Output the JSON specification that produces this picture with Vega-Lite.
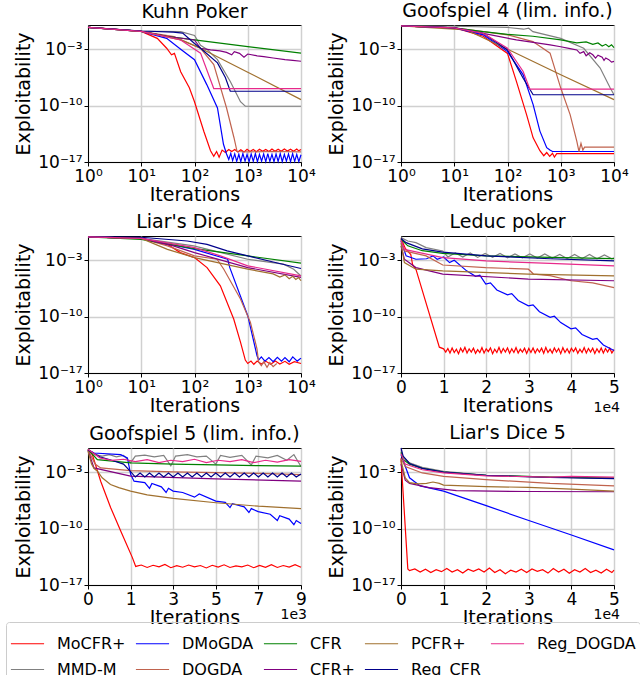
{
"$schema": "https://vega.github.io/schema/vega-lite/v6.json",
"padding": {"left": 5, "top": 1, "right": 5, "bottom": 0},
"config": {
 "font": "DejaVu Sans",
 "view": {"stroke": "black", "strokeWidth": 1},
 "axis": {"labelFontSize": 17, "titleFontSize": 19, "titleFontWeight": "normal", "labelColor": "black", "titleColor": "black", "domainColor": "black", "tickColor": "black", "gridColor": "#d0d0d0", "gridWidth": 1.5, "tickSize": 4, "labelFlush": false, "labelOverlap": false, "labelPadding": 2},
 "axisY": {"titlePadding": 4},
 "axisX": {"titlePadding": 1},
 "title": {"fontSize": 19, "fontWeight": "normal", "offset": 3, "color": "black"},
 "legend": {"direction": "horizontal", "columns": 5, "gridAlign": "each", "symbolType": "stroke", "symbolSize": 1100, "symbolStrokeWidth": 2, "labelFontSize": 16, "labelOffset": 12, "columnPadding": 7, "rowPadding": 0, "strokeColor": "#cccccc", "padding": 4, "cornerRadius": 3, "labelLimit": 300},
 "line": {"strokeWidth": 1.2, "clip": true}
},
"datasets": {
"kuhn": [
{"s":"MoCFR+","x":1,"y":0.5},{"s":"MoCFR+","x":3,"y":0.3},{"s":"MoCFR+","x":10,"y":0.16},{"s":"MoCFR+","x":20,"y":0.022},{"s":"MoCFR+","x":30,"y":0.0013},{"s":"MoCFR+","x":37,"y":2e-4},{"s":"MoCFR+","x":42,"y":3e-4},{"s":"MoCFR+","x":55,"y":1.6e-6},{"s":"MoCFR+","x":80,"y":1.6e-8},{"s":"MoCFR+","x":100,"y":3e-10},{"s":"MoCFR+","x":150,"y":6e-14},{"s":"MoCFR+","x":200,"y":2.5e-16},{"s":"MoCFR+","x":230,"y":5e-17},{"s":"MoCFR+","x":260,"y":2e-16},{"s":"MoCFR+","x":290,"y":4e-17},{"s":"MoCFR+","x":330,"y":3e-16},{"s":"MoCFR+","x":380,"y":1.5e-16},{"s":"MoCFR+","x":440,"y":3.5e-16},{"s":"MoCFR+","x":500,"y":2e-16},{"s":"MoCFR+","x":570,"y":3.6e-16},{"s":"MoCFR+","x":650,"y":1.8e-16},{"s":"MoCFR+","x":740,"y":3.4e-16},{"s":"MoCFR+","x":850,"y":1.7e-16},{"s":"MoCFR+","x":970,"y":3.8e-16},{"s":"MoCFR+","x":1100,"y":2e-16},{"s":"MoCFR+","x":1270,"y":3.5e-16},{"s":"MoCFR+","x":1450,"y":1.9e-16},{"s":"MoCFR+","x":1660,"y":3.9e-16},{"s":"MoCFR+","x":1900,"y":2.1e-16},{"s":"MoCFR+","x":2180,"y":3.6e-16},{"s":"MoCFR+","x":2500,"y":2e-16},{"s":"MoCFR+","x":2850,"y":4e-16},{"s":"MoCFR+","x":3250,"y":2.2e-16},{"s":"MoCFR+","x":3720,"y":3.8e-16},{"s":"MoCFR+","x":4250,"y":2.1e-16},{"s":"MoCFR+","x":4870,"y":4e-16},{"s":"MoCFR+","x":5550,"y":2.3e-16},{"s":"MoCFR+","x":6360,"y":3.9e-16},{"s":"MoCFR+","x":7250,"y":2.2e-16},{"s":"MoCFR+","x":8320,"y":4e-16},{"s":"MoCFR+","x":9100,"y":2.4e-16},{"s":"MoCFR+","x":10000,"y":3.5e-16},
{"s":"MMD-M","x":1,"y":0.5},{"s":"MMD-M","x":10,"y":0.18},{"s":"MMD-M","x":55,"y":0.15},{"s":"MMD-M","x":100,"y":0.05},{"s":"MMD-M","x":130,"y":0.003},{"s":"MMD-M","x":170,"y":0.001},{"s":"MMD-M","x":270,"y":5e-5},{"s":"MMD-M","x":470,"y":1e-7},{"s":"MMD-M","x":730,"y":3e-10},{"s":"MMD-M","x":900,"y":8.3e-11},{"s":"MMD-M","x":10000,"y":8.3e-11},
{"s":"DMoGDA","x":1,"y":0.5},{"s":"DMoGDA","x":10,"y":0.16},{"s":"DMoGDA","x":30,"y":0.022},{"s":"DMoGDA","x":55,"y":0.001},{"s":"DMoGDA","x":100,"y":5e-5},{"s":"DMoGDA","x":170,"y":4e-8},{"s":"DMoGDA","x":270,"y":5e-11},{"s":"DMoGDA","x":350,"y":1.6e-15},{"s":"DMoGDA","x":400,"y":1e-16},{"s":"DMoGDA","x":440,"y":2e-17},{"s":"DMoGDA","x":480,"y":1.2e-16},{"s":"DMoGDA","x":520,"y":1.5e-17},{"s":"DMoGDA","x":570,"y":1e-16},{"s":"DMoGDA","x":620,"y":1.2e-17},{"s":"DMoGDA","x":680,"y":9e-17},{"s":"DMoGDA","x":740,"y":1.1e-17},{"s":"DMoGDA","x":810,"y":1.1e-16},{"s":"DMoGDA","x":890,"y":1.3e-17},{"s":"DMoGDA","x":970,"y":9e-17},{"s":"DMoGDA","x":1060,"y":1.1e-17},{"s":"DMoGDA","x":1160,"y":1e-16},{"s":"DMoGDA","x":1270,"y":1.2e-17},{"s":"DMoGDA","x":1390,"y":1.1e-16},{"s":"DMoGDA","x":1520,"y":1.1e-17},{"s":"DMoGDA","x":1660,"y":9e-17},{"s":"DMoGDA","x":1820,"y":1.3e-17},{"s":"DMoGDA","x":1990,"y":1e-16},{"s":"DMoGDA","x":2180,"y":1.1e-17},{"s":"DMoGDA","x":2380,"y":1.1e-16},{"s":"DMoGDA","x":2600,"y":1.2e-17},{"s":"DMoGDA","x":2850,"y":9e-17},{"s":"DMoGDA","x":3110,"y":1.1e-17},{"s":"DMoGDA","x":3400,"y":1e-16},{"s":"DMoGDA","x":3720,"y":1.2e-17},{"s":"DMoGDA","x":4070,"y":1.1e-16},{"s":"DMoGDA","x":4450,"y":1.1e-17},{"s":"DMoGDA","x":4870,"y":9e-17},{"s":"DMoGDA","x":5320,"y":1.3e-17},{"s":"DMoGDA","x":5820,"y":1e-16},{"s":"DMoGDA","x":6360,"y":1.1e-17},{"s":"DMoGDA","x":6960,"y":1.1e-16},{"s":"DMoGDA","x":7610,"y":1.2e-17},{"s":"DMoGDA","x":8320,"y":9e-17},{"s":"DMoGDA","x":9100,"y":1.1e-17},{"s":"DMoGDA","x":10000,"y":8e-17},
{"s":"DOGDA","x":1,"y":0.5},{"s":"DOGDA","x":10,"y":0.16},{"s":"DOGDA","x":41,"y":0.036},{"s":"DOGDA","x":130,"y":0.0013},{"s":"DOGDA","x":230,"y":1.2e-5},{"s":"DOGDA","x":400,"y":5e-11},{"s":"DOGDA","x":550,"y":1.1e-14},{"s":"DOGDA","x":630,"y":2e-16},{"s":"DOGDA","x":1000,"y":1.8e-16},{"s":"DOGDA","x":3000,"y":2e-16},{"s":"DOGDA","x":10000,"y":1.8e-16},
{"s":"CFR","x":1,"y":0.5},{"s":"CFR","x":10,"y":0.16},{"s":"CFR","x":30,"y":0.04},{"s":"CFR","x":100,"y":0.014},{"s":"CFR","x":1000,"y":0.0021},{"s":"CFR","x":10000,"y":3.2e-4},
{"s":"CFR+","x":1,"y":0.5},{"s":"CFR+","x":10,"y":0.16},{"s":"CFR+","x":30,"y":0.04},{"s":"CFR+","x":100,"y":0.014},{"s":"CFR+","x":130,"y":0.0013},{"s":"CFR+","x":200,"y":8e-4},{"s":"CFR+","x":300,"y":6.3e-4},{"s":"CFR+","x":400,"y":4e-4},{"s":"CFR+","x":500,"y":2e-4},{"s":"CFR+","x":560,"y":5e-4},{"s":"CFR+","x":700,"y":3e-4},{"s":"CFR+","x":850,"y":1e-4},{"s":"CFR+","x":1000,"y":2.5e-4},{"s":"CFR+","x":1500,"y":1.5e-4},{"s":"CFR+","x":2000,"y":1.2e-4},{"s":"CFR+","x":3000,"y":8e-5},{"s":"CFR+","x":5000,"y":5e-5},{"s":"CFR+","x":7000,"y":4e-5},{"s":"CFR+","x":10000,"y":3.2e-5},
{"s":"PCFR+","x":1,"y":0.5},{"s":"PCFR+","x":10,"y":0.16},{"s":"PCFR+","x":55,"y":0.014},{"s":"PCFR+","x":130,"y":0.0013},{"s":"PCFR+","x":1000,"y":1.4e-6},{"s":"PCFR+","x":10000,"y":5.5e-10},
{"s":"Reg_CFR","x":1,"y":0.5},{"s":"Reg_CFR","x":10,"y":0.18},{"s":"Reg_CFR","x":40,"y":0.13},{"s":"Reg_CFR","x":60,"y":0.1},{"s":"Reg_CFR","x":100,"y":0.005},{"s":"Reg_CFR","x":130,"y":0.0013},{"s":"Reg_CFR","x":270,"y":2e-5},{"s":"Reg_CFR","x":380,"y":3e-7},{"s":"Reg_CFR","x":470,"y":6e-9},{"s":"Reg_CFR","x":10000,"y":6e-9},
{"s":"Reg_DOGDA","x":1,"y":0.5},{"s":"Reg_DOGDA","x":10,"y":0.16},{"s":"Reg_DOGDA","x":55,"y":0.014},{"s":"Reg_DOGDA","x":130,"y":3.2e-4},{"s":"Reg_DOGDA","x":230,"y":1.3e-8},{"s":"Reg_DOGDA","x":10000,"y":1.3e-8}
],
"goof4": [
{"s":"MoCFR+","x":1,"y":0.76},{"s":"MoCFR+","x":10,"y":0.45},{"s":"MoCFR+","x":35,"y":0.04},{"s":"MoCFR+","x":100,"y":3e-4},{"s":"MoCFR+","x":147,"y":1e-7},{"s":"MoCFR+","x":228,"y":7.6e-12},{"s":"MoCFR+","x":303,"y":1e-14},{"s":"MoCFR+","x":406,"y":2.5e-16},{"s":"MoCFR+","x":480,"y":6e-17},{"s":"MoCFR+","x":545,"y":1.5e-16},{"s":"MoCFR+","x":620,"y":5e-17},{"s":"MoCFR+","x":700,"y":1.2e-16},{"s":"MoCFR+","x":760,"y":4e-17},{"s":"MoCFR+","x":840,"y":1.07e-16},{"s":"MoCFR+","x":10000,"y":1.07e-16},
{"s":"MMD-M","x":1,"y":0.76},{"s":"MMD-M","x":10,"y":0.7},{"s":"MMD-M","x":100,"y":0.5},{"s":"MMD-M","x":200,"y":0.3},{"s":"MMD-M","x":250,"y":0.4},{"s":"MMD-M","x":300,"y":0.15},{"s":"MMD-M","x":1000,"y":0.022},{"s":"MMD-M","x":2700,"y":0.0013},{"s":"MMD-M","x":5500,"y":4.5e-6},{"s":"MMD-M","x":8500,"y":1.5e-8},{"s":"MMD-M","x":10000,"y":2.2e-9},
{"s":"DMoGDA","x":1,"y":0.76},{"s":"DMoGDA","x":10,"y":0.45},{"s":"DMoGDA","x":35,"y":0.06},{"s":"DMoGDA","x":100,"y":5e-4},{"s":"DMoGDA","x":197,"y":6.6e-7},{"s":"DMoGDA","x":303,"y":1.3e-10},{"s":"DMoGDA","x":406,"y":6.8e-14},{"s":"DMoGDA","x":545,"y":6e-16},{"s":"DMoGDA","x":626,"y":3e-16},{"s":"DMoGDA","x":700,"y":2e-16},{"s":"DMoGDA","x":10000,"y":2e-16},
{"s":"DOGDA","x":1,"y":0.76},{"s":"DOGDA","x":10,"y":0.45},{"s":"DOGDA","x":35,"y":0.15},{"s":"DOGDA","x":100,"y":0.06},{"s":"DOGDA","x":300,"y":0.0087},{"s":"DOGDA","x":630,"y":3.2e-4},{"s":"DOGDA","x":1000,"y":1.5e-8},{"s":"DOGDA","x":1500,"y":7.6e-12},{"s":"DOGDA","x":2000,"y":4e-15},{"s":"DOGDA","x":2200,"y":2e-16},{"s":"DOGDA","x":2400,"y":2e-15},{"s":"DOGDA","x":2600,"y":3e-16},{"s":"DOGDA","x":2800,"y":7e-16},{"s":"DOGDA","x":10000,"y":7e-16},
{"s":"CFR","x":1,"y":0.76},{"s":"CFR","x":10,"y":0.45},{"s":"CFR","x":35,"y":0.15},{"s":"CFR","x":100,"y":0.07},{"s":"CFR","x":300,"y":0.04},{"s":"CFR","x":1000,"y":0.014},{"s":"CFR","x":2000,"y":0.006},{"s":"CFR","x":3000,"y":0.008},{"s":"CFR","x":4000,"y":0.004},{"s":"CFR","x":5000,"y":0.006},{"s":"CFR","x":6000,"y":0.0025},{"s":"CFR","x":7000,"y":0.004},{"s":"CFR","x":8000,"y":0.002},{"s":"CFR","x":9000,"y":0.0035},{"s":"CFR","x":10000,"y":0.0016},
{"s":"CFR+","x":1,"y":0.76},{"s":"CFR+","x":10,"y":0.45},{"s":"CFR+","x":35,"y":0.09},{"s":"CFR+","x":147,"y":0.014},{"s":"CFR+","x":630,"y":0.0034},{"s":"CFR+","x":1000,"y":0.002},{"s":"CFR+","x":1500,"y":0.0012},{"s":"CFR+","x":2000,"y":8e-4},{"s":"CFR+","x":2300,"y":3e-4},{"s":"CFR+","x":2700,"y":5e-4},{"s":"CFR+","x":3000,"y":1.5e-4},{"s":"CFR+","x":3500,"y":3.5e-4},{"s":"CFR+","x":4000,"y":2e-4},{"s":"CFR+","x":4500,"y":8e-5},{"s":"CFR+","x":5000,"y":1.8e-4},{"s":"CFR+","x":6000,"y":1e-4},{"s":"CFR+","x":6500,"y":4e-5},{"s":"CFR+","x":7000,"y":8e-5},{"s":"CFR+","x":8000,"y":5e-5},{"s":"CFR+","x":9000,"y":2.5e-5},{"s":"CFR+","x":10000,"y":3e-5},
{"s":"PCFR+","x":1,"y":0.76},{"s":"PCFR+","x":17,"y":0.24},{"s":"PCFR+","x":100,"y":0.001},{"s":"PCFR+","x":1000,"y":6.6e-7},{"s":"PCFR+","x":10000,"y":5.5e-10},
{"s":"Reg_CFR","x":1,"y":0.76},{"s":"Reg_CFR","x":10,"y":0.45},{"s":"Reg_CFR","x":35,"y":0.09},{"s":"Reg_CFR","x":100,"y":8e-4},{"s":"Reg_CFR","x":197,"y":2.5e-7},{"s":"Reg_CFR","x":303,"y":2.2e-9},{"s":"Reg_CFR","x":10000,"y":2.2e-9},
{"s":"Reg_DOGDA","x":1,"y":0.76},{"s":"Reg_DOGDA","x":10,"y":0.45},{"s":"Reg_DOGDA","x":35,"y":0.09},{"s":"Reg_DOGDA","x":100,"y":0.0013},{"s":"Reg_DOGDA","x":197,"y":1.7e-6},{"s":"Reg_DOGDA","x":263,"y":1.1e-8},{"s":"Reg_DOGDA","x":10000,"y":1.1e-8}
],
"liars4": [
{"s":"MoCFR+","x":1,"y":0.76},{"s":"MoCFR+","x":10,"y":0.5},{"s":"MoCFR+","x":31,"y":0.093},{"s":"MoCFR+","x":54,"y":0.0087},{"s":"MoCFR+","x":100,"y":0.0021},{"s":"MoCFR+","x":172,"y":1.2e-4},{"s":"MoCFR+","x":306,"y":6.6e-7},{"s":"MoCFR+","x":545,"y":5e-11},{"s":"MoCFR+","x":730,"y":6.8e-14},{"s":"MoCFR+","x":900,"y":4e-16},{"s":"MoCFR+","x":1000,"y":1.5e-16},{"s":"MoCFR+","x":1150,"y":3e-16},{"s":"MoCFR+","x":1300,"y":1.2e-16},{"s":"MoCFR+","x":1500,"y":3e-16},{"s":"MoCFR+","x":1800,"y":1.3e-16},{"s":"MoCFR+","x":2200,"y":2.8e-16},{"s":"MoCFR+","x":2700,"y":1.2e-16},{"s":"MoCFR+","x":3300,"y":3e-16},{"s":"MoCFR+","x":4000,"y":1.3e-16},{"s":"MoCFR+","x":5000,"y":2.8e-16},{"s":"MoCFR+","x":6000,"y":1.2e-16},{"s":"MoCFR+","x":7500,"y":2.5e-16},{"s":"MoCFR+","x":10000,"y":1.5e-16},
{"s":"MMD-M","x":1,"y":0.76},{"s":"MMD-M","x":10,"y":0.5},{"s":"MMD-M","x":97,"y":0.06},{"s":"MMD-M","x":1000,"y":0.0013},{"s":"MMD-M","x":4700,"y":3.2e-4},{"s":"MMD-M","x":7300,"y":7.6e-5},{"s":"MMD-M","x":10000,"y":1.1e-5},
{"s":"DMoGDA","x":1,"y":0.76},{"s":"DMoGDA","x":10,"y":0.5},{"s":"DMoGDA","x":100,"y":0.022},{"s":"DMoGDA","x":420,"y":0.0013},{"s":"DMoGDA","x":460,"y":1.2e-4},{"s":"DMoGDA","x":1000,"y":1.3e-10},{"s":"DMoGDA","x":1490,"y":1.5e-15},{"s":"DMoGDA","x":1600,"y":4e-16},{"s":"DMoGDA","x":1800,"y":1e-15},{"s":"DMoGDA","x":2100,"y":3e-16},{"s":"DMoGDA","x":2500,"y":8e-16},{"s":"DMoGDA","x":3000,"y":2.5e-16},{"s":"DMoGDA","x":3600,"y":9e-16},{"s":"DMoGDA","x":4300,"y":3e-16},{"s":"DMoGDA","x":5000,"y":8e-16},{"s":"DMoGDA","x":6000,"y":2.5e-16},{"s":"DMoGDA","x":7000,"y":1e-15},{"s":"DMoGDA","x":8500,"y":3e-16},{"s":"DMoGDA","x":10000,"y":7e-16},
{"s":"DOGDA","x":1,"y":0.76},{"s":"DOGDA","x":10,"y":0.5},{"s":"DOGDA","x":31,"y":0.06},{"s":"DOGDA","x":100,"y":0.0034},{"s":"DOGDA","x":265,"y":0.0013},{"s":"DOGDA","x":355,"y":7.6e-5},{"s":"DOGDA","x":730,"y":1.5e-8},{"s":"DOGDA","x":1120,"y":2e-11},{"s":"DOGDA","x":1490,"y":1e-14},{"s":"DOGDA","x":1600,"y":2.3e-16},{"s":"DOGDA","x":1800,"y":8e-17},{"s":"DOGDA","x":2000,"y":2.5e-16},{"s":"DOGDA","x":2300,"y":5e-17},{"s":"DOGDA","x":2600,"y":2e-16},{"s":"DOGDA","x":3000,"y":6e-17},{"s":"DOGDA","x":3500,"y":1.5e-16},
{"s":"CFR","x":1,"y":0.76},{"s":"CFR","x":10,"y":0.39},{"s":"CFR","x":100,"y":0.027},{"s":"CFR","x":1000,"y":0.0034},{"s":"CFR","x":10000,"y":4.2e-4},
{"s":"CFR+","x":1,"y":0.76},{"s":"CFR+","x":10,"y":0.5},{"s":"CFR+","x":40,"y":0.06},{"s":"CFR+","x":100,"y":0.0087},{"s":"CFR+","x":1000,"y":1.2e-4},{"s":"CFR+","x":10000,"y":7.2e-6},
{"s":"PCFR+","x":1,"y":0.76},{"s":"PCFR+","x":10,"y":0.5},{"s":"PCFR+","x":31,"y":0.022},{"s":"PCFR+","x":100,"y":0.0021},{"s":"PCFR+","x":1000,"y":7.6e-5},{"s":"PCFR+","x":3000,"y":2e-5},{"s":"PCFR+","x":4000,"y":8e-6},{"s":"PCFR+","x":5000,"y":1.5e-5},{"s":"PCFR+","x":6000,"y":5e-6},{"s":"PCFR+","x":7000,"y":1e-5},{"s":"PCFR+","x":8000,"y":4e-6},{"s":"PCFR+","x":9000,"y":7e-6},{"s":"PCFR+","x":10000,"y":2.8e-6},
{"s":"Reg_CFR","x":1,"y":0.76},{"s":"Reg_CFR","x":10,"y":0.7},{"s":"Reg_CFR","x":73,"y":0.24},{"s":"Reg_CFR","x":172,"y":0.093},{"s":"Reg_CFR","x":410,"y":0.014},{"s":"Reg_CFR","x":1000,"y":0.0034},{"s":"Reg_CFR","x":3000,"y":6e-4},{"s":"Reg_CFR","x":10000,"y":9.3e-5},
{"s":"Reg_DOGDA","x":1,"y":0.76},{"s":"Reg_DOGDA","x":10,"y":0.5},{"s":"Reg_DOGDA","x":100,"y":0.036},{"s":"Reg_DOGDA","x":306,"y":0.0034},{"s":"Reg_DOGDA","x":1000,"y":2e-4},{"s":"Reg_DOGDA","x":10000,"y":1.1e-5}
],
"leduc": [
{"s":"MoCFR+","x":0,"y":0.5},{"s":"MoCFR+","x":1000,"y":0.03},{"s":"MoCFR+","x":2300,"y":0.005},{"s":"MoCFR+","x":2500,"y":0.0013},{"s":"MoCFR+","x":2700,"y":3e-4},{"s":"MoCFR+","x":3500,"y":7.6e-5},{"s":"MoCFR+","x":9000,"y":1.6e-14},{"s":"MoCFR+","x":10000,"y":1e-14},{"s":"MoCFR+","x":10500,"y":4e-15},{"s":"MoCFR+","x":11000,"y":1.1e-14},{"s":"MoCFR+","x":11500,"y":3e-15},{"s":"MoCFR+","x":12000,"y":1.3e-14},{"s":"MoCFR+","x":12500,"y":3.5e-15},{"s":"MoCFR+","x":13000,"y":9e-15},{"s":"MoCFR+","x":13500,"y":2.5e-15},{"s":"MoCFR+","x":14000,"y":1.2e-14},{"s":"MoCFR+","x":14500,"y":4e-15},{"s":"MoCFR+","x":15000,"y":1.5e-14},{"s":"MoCFR+","x":15500,"y":3e-15},{"s":"MoCFR+","x":16000,"y":1e-14},{"s":"MoCFR+","x":16500,"y":4e-15},{"s":"MoCFR+","x":17000,"y":1.2e-14},{"s":"MoCFR+","x":17500,"y":2.8e-15},{"s":"MoCFR+","x":18000,"y":8e-15},{"s":"MoCFR+","x":18500,"y":3.5e-15},{"s":"MoCFR+","x":19000,"y":1.4e-14},{"s":"MoCFR+","x":19500,"y":3e-15},{"s":"MoCFR+","x":20000,"y":1e-14},{"s":"MoCFR+","x":20500,"y":4.5e-15},{"s":"MoCFR+","x":21000,"y":1.3e-14},{"s":"MoCFR+","x":21500,"y":2.5e-15},{"s":"MoCFR+","x":22000,"y":9e-15},{"s":"MoCFR+","x":22500,"y":3.5e-15},{"s":"MoCFR+","x":23000,"y":1.5e-14},{"s":"MoCFR+","x":23500,"y":3e-15},{"s":"MoCFR+","x":24000,"y":1.1e-14},{"s":"MoCFR+","x":24500,"y":4e-15},{"s":"MoCFR+","x":25000,"y":1.3e-14},{"s":"MoCFR+","x":25500,"y":2.8e-15},{"s":"MoCFR+","x":26000,"y":1e-14},{"s":"MoCFR+","x":26500,"y":3.5e-15},{"s":"MoCFR+","x":27000,"y":1.4e-14},{"s":"MoCFR+","x":27500,"y":3e-15},{"s":"MoCFR+","x":28000,"y":9e-15},{"s":"MoCFR+","x":28500,"y":4e-15},{"s":"MoCFR+","x":29000,"y":1.2e-14},{"s":"MoCFR+","x":29500,"y":2.6e-15},{"s":"MoCFR+","x":30000,"y":1.1e-14},{"s":"MoCFR+","x":30500,"y":3.5e-15},{"s":"MoCFR+","x":31000,"y":1.3e-14},{"s":"MoCFR+","x":31500,"y":3e-15},{"s":"MoCFR+","x":32000,"y":1e-14},{"s":"MoCFR+","x":32500,"y":4e-15},{"s":"MoCFR+","x":33000,"y":1.2e-14},{"s":"MoCFR+","x":33500,"y":2.8e-15},{"s":"MoCFR+","x":34000,"y":1.5e-14},{"s":"MoCFR+","x":34500,"y":3.5e-15},{"s":"MoCFR+","x":35000,"y":9e-15},{"s":"MoCFR+","x":35500,"y":3e-15},{"s":"MoCFR+","x":36000,"y":1.3e-14},{"s":"MoCFR+","x":36500,"y":4e-15},{"s":"MoCFR+","x":37000,"y":1.1e-14},{"s":"MoCFR+","x":37500,"y":2.5e-15},{"s":"MoCFR+","x":38000,"y":1.4e-14},{"s":"MoCFR+","x":38500,"y":3.5e-15},{"s":"MoCFR+","x":39000,"y":1e-14},{"s":"MoCFR+","x":39500,"y":3e-15},{"s":"MoCFR+","x":40000,"y":1.2e-14},{"s":"MoCFR+","x":40500,"y":4.5e-15},{"s":"MoCFR+","x":41000,"y":1.3e-14},{"s":"MoCFR+","x":41500,"y":2.8e-15},{"s":"MoCFR+","x":42000,"y":9e-15},{"s":"MoCFR+","x":42500,"y":3.5e-15},{"s":"MoCFR+","x":43000,"y":1.4e-14},{"s":"MoCFR+","x":43500,"y":3e-15},{"s":"MoCFR+","x":44000,"y":1.1e-14},{"s":"MoCFR+","x":44500,"y":4e-15},{"s":"MoCFR+","x":45000,"y":1.2e-14},{"s":"MoCFR+","x":45500,"y":2.6e-15},{"s":"MoCFR+","x":46000,"y":1e-14},{"s":"MoCFR+","x":46500,"y":3.5e-15},{"s":"MoCFR+","x":47000,"y":1.3e-14},{"s":"MoCFR+","x":47500,"y":3e-15},{"s":"MoCFR+","x":48000,"y":1.1e-14},{"s":"MoCFR+","x":48500,"y":4e-15},{"s":"MoCFR+","x":49000,"y":1.2e-14},{"s":"MoCFR+","x":49500,"y":3e-15},{"s":"MoCFR+","x":50000,"y":8e-15},
{"s":"MMD-M","x":0,"y":0.63},{"s":"MMD-M","x":1600,"y":0.24},{"s":"MMD-M","x":3500,"y":0.15},{"s":"MMD-M","x":5900,"y":0.036},{"s":"MMD-M","x":9800,"y":0.014},{"s":"MMD-M","x":11000,"y":0.0025},{"s":"MMD-M","x":12750,"y":0.008},{"s":"MMD-M","x":14500,"y":0.0025},{"s":"MMD-M","x":16250,"y":0.008},{"s":"MMD-M","x":18000,"y":0.0022},{"s":"MMD-M","x":19750,"y":0.007},{"s":"MMD-M","x":21500,"y":0.0022},{"s":"MMD-M","x":23250,"y":0.007},{"s":"MMD-M","x":25000,"y":0.002},{"s":"MMD-M","x":26750,"y":0.006},{"s":"MMD-M","x":28500,"y":0.002},{"s":"MMD-M","x":30250,"y":0.006},{"s":"MMD-M","x":32000,"y":0.0018},{"s":"MMD-M","x":33750,"y":0.006},{"s":"MMD-M","x":35500,"y":0.0018},{"s":"MMD-M","x":37250,"y":0.005},{"s":"MMD-M","x":39000,"y":0.0016},{"s":"MMD-M","x":40750,"y":0.005},{"s":"MMD-M","x":42500,"y":0.0016},{"s":"MMD-M","x":44250,"y":0.005},{"s":"MMD-M","x":46000,"y":0.0015},{"s":"MMD-M","x":47750,"y":0.0045},{"s":"MMD-M","x":49500,"y":0.0015},{"s":"MMD-M","x":50000,"y":0.002},
{"s":"DMoGDA","x":0,"y":0.24},{"s":"DMoGDA","x":1200,"y":0.0034},{"s":"DMoGDA","x":3500,"y":0.0013},{"s":"DMoGDA","x":6000,"y":0.0015},{"s":"DMoGDA","x":7500,"y":0.0034},{"s":"DMoGDA","x":8500,"y":0.0013},{"s":"DMoGDA","x":10000,"y":0.0025},{"s":"DMoGDA","x":11400,"y":5e-4},{"s":"DMoGDA","x":12500,"y":0.001},{"s":"DMoGDA","x":15400,"y":4.7e-5},{"s":"DMoGDA","x":17500,"y":1e-5},{"s":"DMoGDA","x":18500,"y":1.4e-5},{"s":"DMoGDA","x":19900,"y":1.1e-6},{"s":"DMoGDA","x":21000,"y":1.5e-6},{"s":"DMoGDA","x":22500,"y":2e-7},{"s":"DMoGDA","x":25000,"y":5e-8},{"s":"DMoGDA","x":26000,"y":7e-8},{"s":"DMoGDA","x":27500,"y":1e-8},{"s":"DMoGDA","x":29900,"y":2.2e-9},{"s":"DMoGDA","x":31000,"y":2.8e-9},{"s":"DMoGDA","x":32500,"y":4e-10},{"s":"DMoGDA","x":35000,"y":8e-11},{"s":"DMoGDA","x":36000,"y":1.1e-10},{"s":"DMoGDA","x":37500,"y":1.8e-11},{"s":"DMoGDA","x":39900,"y":3e-12},{"s":"DMoGDA","x":41000,"y":4e-12},{"s":"DMoGDA","x":42500,"y":6e-13},{"s":"DMoGDA","x":45000,"y":1.5e-13},{"s":"DMoGDA","x":46000,"y":2e-13},{"s":"DMoGDA","x":47500,"y":3e-14},{"s":"DMoGDA","x":50000,"y":6.3e-15},
{"s":"DOGDA","x":0,"y":0.3},{"s":"DOGDA","x":800,"y":0.014},{"s":"DOGDA","x":5900,"y":0.0034},{"s":"DOGDA","x":9800,"y":2.5e-4},{"s":"DOGDA","x":19900,"y":1.2e-4},{"s":"DOGDA","x":29900,"y":7.6e-5},{"s":"DOGDA","x":31100,"y":1.9e-5},{"s":"DOGDA","x":35000,"y":1.2e-5},{"s":"DOGDA","x":39900,"y":2.8e-6},{"s":"DOGDA","x":45000,"y":1.5e-6},{"s":"DOGDA","x":50000,"y":4e-7},
{"s":"CFR","x":0,"y":0.4},{"s":"CFR","x":1600,"y":0.06},{"s":"CFR","x":5000,"y":0.015},{"s":"CFR","x":9800,"y":0.007},{"s":"CFR","x":20000,"y":0.0034},{"s":"CFR","x":35000,"y":0.0022},{"s":"CFR","x":50000,"y":0.0016},
{"s":"CFR+","x":0,"y":0.06},{"s":"CFR+","x":800,"y":0.0013},{"s":"CFR+","x":3500,"y":1.2e-4},{"s":"CFR+","x":9800,"y":1.9e-5},{"s":"CFR+","x":29900,"y":4.5e-6},{"s":"CFR+","x":50000,"y":2.8e-6},
{"s":"PCFR+","x":0,"y":0.15},{"s":"PCFR+","x":800,"y":5e-4},{"s":"PCFR+","x":3500,"y":7.6e-5},{"s":"PCFR+","x":9800,"y":4.7e-5},{"s":"PCFR+","x":29900,"y":1.9e-5},{"s":"PCFR+","x":50000,"y":1.15e-5},
{"s":"Reg_CFR","x":0,"y":0.5},{"s":"Reg_CFR","x":1200,"y":0.15},{"s":"Reg_CFR","x":5000,"y":0.025},{"s":"Reg_CFR","x":9800,"y":0.01},{"s":"Reg_CFR","x":20000,"y":0.0034},{"s":"Reg_CFR","x":35000,"y":0.0015},{"s":"Reg_CFR","x":50000,"y":8e-4},
{"s":"Reg_DOGDA","x":0,"y":0.3},{"s":"Reg_DOGDA","x":800,"y":0.022},{"s":"Reg_DOGDA","x":9800,"y":0.0021},{"s":"Reg_DOGDA","x":20000,"y":8e-4},{"s":"Reg_DOGDA","x":35000,"y":4e-4},{"s":"Reg_DOGDA","x":50000,"y":2e-4}
],
"goof5": [
{"s":"MoCFR+","x":0,"y":0.6},{"s":"MoCFR+","x":183,"y":0.15},{"s":"MoCFR+","x":536,"y":7.6e-5},{"s":"MoCFR+","x":959,"y":3.9e-8},{"s":"MoCFR+","x":1382,"y":5e-11},{"s":"MoCFR+","x":1875,"y":2.5e-14},{"s":"MoCFR+","x":2016,"y":2e-15},{"s":"MoCFR+","x":2250,"y":3e-15},{"s":"MoCFR+","x":2500,"y":1.5e-15},{"s":"MoCFR+","x":2750,"y":2.8e-15},{"s":"MoCFR+","x":3000,"y":1.8e-15},{"s":"MoCFR+","x":3250,"y":3.5e-15},{"s":"MoCFR+","x":3500,"y":1.4e-15},{"s":"MoCFR+","x":3750,"y":2.5e-15},{"s":"MoCFR+","x":4000,"y":1.6e-15},{"s":"MoCFR+","x":4250,"y":3e-15},{"s":"MoCFR+","x":4500,"y":1.8e-15},{"s":"MoCFR+","x":4750,"y":2.6e-15},{"s":"MoCFR+","x":5000,"y":1.3e-15},{"s":"MoCFR+","x":5250,"y":2.8e-15},{"s":"MoCFR+","x":5500,"y":1.7e-15},{"s":"MoCFR+","x":5750,"y":3.2e-15},{"s":"MoCFR+","x":6000,"y":1.5e-15},{"s":"MoCFR+","x":6250,"y":2.4e-15},{"s":"MoCFR+","x":6500,"y":1.8e-15},{"s":"MoCFR+","x":6750,"y":3e-15},{"s":"MoCFR+","x":7000,"y":1.4e-15},{"s":"MoCFR+","x":7250,"y":2.7e-15},{"s":"MoCFR+","x":7500,"y":1.6e-15},{"s":"MoCFR+","x":7750,"y":3.3e-15},{"s":"MoCFR+","x":8000,"y":1.5e-15},{"s":"MoCFR+","x":8250,"y":2.6e-15},{"s":"MoCFR+","x":8500,"y":1.7e-15},{"s":"MoCFR+","x":8750,"y":3.4e-15},{"s":"MoCFR+","x":9000,"y":1.6e-15},
{"s":"MMD-M","x":0,"y":0.7},{"s":"MMD-M","x":300,"y":0.15},{"s":"MMD-M","x":600,"y":0.1},{"s":"MMD-M","x":900,"y":0.15},{"s":"MMD-M","x":1200,"y":0.08},{"s":"MMD-M","x":1500,"y":0.12},{"s":"MMD-M","x":1800,"y":0.015},{"s":"MMD-M","x":2000,"y":0.1},{"s":"MMD-M","x":2400,"y":0.13},{"s":"MMD-M","x":2800,"y":0.08},{"s":"MMD-M","x":3200,"y":0.12},{"s":"MMD-M","x":3500,"y":0.006},{"s":"MMD-M","x":3700,"y":0.1},{"s":"MMD-M","x":4200,"y":0.15},{"s":"MMD-M","x":4600,"y":0.08},{"s":"MMD-M","x":5000,"y":0.1},{"s":"MMD-M","x":5400,"y":0.01},{"s":"MMD-M","x":5600,"y":0.12},{"s":"MMD-M","x":6000,"y":0.07},{"s":"MMD-M","x":6500,"y":0.12},{"s":"MMD-M","x":6900,"y":0.008},{"s":"MMD-M","x":7100,"y":0.1},{"s":"MMD-M","x":7600,"y":0.06},{"s":"MMD-M","x":8000,"y":0.12},{"s":"MMD-M","x":8400,"y":0.03},{"s":"MMD-M","x":8700,"y":0.15},{"s":"MMD-M","x":9000,"y":0.005},
{"s":"DMoGDA","x":0,"y":0.6},{"s":"DMoGDA","x":254,"y":0.24},{"s":"DMoGDA","x":1382,"y":0.15},{"s":"DMoGDA","x":1664,"y":0.06},{"s":"DMoGDA","x":1805,"y":5e-4},{"s":"DMoGDA","x":1946,"y":7.6e-5},{"s":"DMoGDA","x":2400,"y":5e-5},{"s":"DMoGDA","x":2600,"y":1e-5},{"s":"DMoGDA","x":2700,"y":4e-5},{"s":"DMoGDA","x":3100,"y":1.5e-5},{"s":"DMoGDA","x":3300,"y":3e-6},{"s":"DMoGDA","x":3400,"y":1e-5},{"s":"DMoGDA","x":3596,"y":4.5e-6},{"s":"DMoGDA","x":4000,"y":3e-6},{"s":"DMoGDA","x":4500,"y":8e-7},{"s":"DMoGDA","x":4700,"y":2e-6},{"s":"DMoGDA","x":5400,"y":2.6e-7},{"s":"DMoGDA","x":5800,"y":1.8e-7},{"s":"DMoGDA","x":6000,"y":4e-8},{"s":"DMoGDA","x":6100,"y":1.2e-7},{"s":"DMoGDA","x":6600,"y":5e-8},{"s":"DMoGDA","x":6800,"y":1e-8},{"s":"DMoGDA","x":6900,"y":3e-8},{"s":"DMoGDA","x":7191,"y":1.26e-8},{"s":"DMoGDA","x":7700,"y":6e-9},{"s":"DMoGDA","x":8000,"y":1e-9},{"s":"DMoGDA","x":8100,"y":4e-9},{"s":"DMoGDA","x":8500,"y":1.5e-9},{"s":"DMoGDA","x":8700,"y":3e-10},{"s":"DMoGDA","x":8800,"y":1e-9},{"s":"DMoGDA","x":9000,"y":4.2e-10},
{"s":"DOGDA","x":0,"y":0.6},{"s":"DOGDA","x":300,"y":0.01},{"s":"DOGDA","x":536,"y":0.0034},{"s":"DOGDA","x":1800,"y":0.0016},{"s":"DOGDA","x":3600,"y":0.0011},{"s":"DOGDA","x":5400,"y":9e-4},{"s":"DOGDA","x":7200,"y":7e-4},{"s":"DOGDA","x":9000,"y":5e-4},
{"s":"CFR","x":0,"y":0.7},{"s":"CFR","x":395,"y":0.036},{"s":"CFR","x":1800,"y":0.014},{"s":"CFR","x":3600,"y":0.01},{"s":"CFR","x":5400,"y":0.008},{"s":"CFR","x":7200,"y":0.0065},{"s":"CFR","x":9000,"y":0.0055},
{"s":"CFR+","x":0,"y":0.5},{"s":"CFR+","x":254,"y":0.0034},{"s":"CFR+","x":1800,"y":3.2e-4},{"s":"CFR+","x":5400,"y":1.5e-4},{"s":"CFR+","x":9000,"y":7.6e-5},
{"s":"PCFR+","x":0,"y":0.4},{"s":"PCFR+","x":150,"y":0.01},{"s":"PCFR+","x":250,"y":0.003},{"s":"PCFR+","x":400,"y":0.0013},{"s":"PCFR+","x":600,"y":2e-4},{"s":"PCFR+","x":950,"y":3e-5},{"s":"PCFR+","x":1300,"y":1.2e-5},{"s":"PCFR+","x":1800,"y":4.5e-6},{"s":"PCFR+","x":2500,"y":1.5e-6},{"s":"PCFR+","x":3600,"y":5.5e-7},{"s":"PCFR+","x":5400,"y":1.6e-7},{"s":"PCFR+","x":7200,"y":6e-8},{"s":"PCFR+","x":9000,"y":3e-8},
{"s":"Reg_CFR","x":0,"y":0.6},{"s":"Reg_CFR","x":500,"y":0.08},{"s":"Reg_CFR","x":1000,"y":0.03},{"s":"Reg_CFR","x":1500,"y":0.01},{"s":"Reg_CFR","x":1800,"y":0.0012},{"s":"Reg_CFR","x":2000,"y":2.5e-4},{"s":"Reg_CFR","x":2200,"y":8e-4},{"s":"Reg_CFR","x":2400,"y":2.5e-4},{"s":"Reg_CFR","x":2600,"y":8e-4},{"s":"Reg_CFR","x":2800,"y":2.5e-4},{"s":"Reg_CFR","x":3000,"y":8e-4},{"s":"Reg_CFR","x":3200,"y":2.5e-4},{"s":"Reg_CFR","x":3400,"y":8e-4},{"s":"Reg_CFR","x":3600,"y":2.5e-4},{"s":"Reg_CFR","x":3800,"y":8e-4},{"s":"Reg_CFR","x":4000,"y":2.5e-4},{"s":"Reg_CFR","x":4200,"y":8e-4},{"s":"Reg_CFR","x":4400,"y":2.5e-4},{"s":"Reg_CFR","x":4600,"y":8e-4},{"s":"Reg_CFR","x":4800,"y":2.5e-4},{"s":"Reg_CFR","x":5000,"y":8e-4},{"s":"Reg_CFR","x":5200,"y":2.5e-4},{"s":"Reg_CFR","x":5400,"y":8e-4},{"s":"Reg_CFR","x":5600,"y":2.5e-4},{"s":"Reg_CFR","x":5800,"y":8e-4},{"s":"Reg_CFR","x":6000,"y":2.5e-4},{"s":"Reg_CFR","x":6200,"y":8e-4},{"s":"Reg_CFR","x":6400,"y":2.5e-4},{"s":"Reg_CFR","x":6600,"y":8e-4},{"s":"Reg_CFR","x":6800,"y":2.5e-4},{"s":"Reg_CFR","x":7000,"y":8e-4},{"s":"Reg_CFR","x":7200,"y":2.5e-4},{"s":"Reg_CFR","x":7400,"y":8e-4},{"s":"Reg_CFR","x":7600,"y":2.5e-4},{"s":"Reg_CFR","x":7800,"y":8e-4},{"s":"Reg_CFR","x":8000,"y":2.5e-4},{"s":"Reg_CFR","x":8200,"y":8e-4},{"s":"Reg_CFR","x":8400,"y":2.5e-4},{"s":"Reg_CFR","x":8600,"y":8e-4},{"s":"Reg_CFR","x":8800,"y":2.5e-4},{"s":"Reg_CFR","x":9000,"y":6e-4},
{"s":"Reg_DOGDA","x":0,"y":0.7},{"s":"Reg_DOGDA","x":500,"y":0.06},{"s":"Reg_DOGDA","x":1000,"y":0.03},{"s":"Reg_DOGDA","x":1500,"y":0.04},{"s":"Reg_DOGDA","x":2000,"y":0.02},{"s":"Reg_DOGDA","x":2500,"y":0.035},{"s":"Reg_DOGDA","x":3000,"y":0.015},{"s":"Reg_DOGDA","x":3500,"y":0.03},{"s":"Reg_DOGDA","x":4000,"y":0.02},{"s":"Reg_DOGDA","x":4500,"y":0.04},{"s":"Reg_DOGDA","x":5000,"y":0.015},{"s":"Reg_DOGDA","x":5500,"y":0.03},{"s":"Reg_DOGDA","x":6000,"y":0.02},{"s":"Reg_DOGDA","x":6500,"y":0.035},{"s":"Reg_DOGDA","x":7000,"y":0.015},{"s":"Reg_DOGDA","x":7500,"y":0.03},{"s":"Reg_DOGDA","x":8000,"y":0.018},{"s":"Reg_DOGDA","x":8500,"y":0.035},{"s":"Reg_DOGDA","x":9000,"y":0.022}
],
"liars5": [
{"s":"MoCFR+","x":0,"y":0.05},{"s":"MoCFR+","x":1600,"y":1e-15},{"s":"MoCFR+","x":2000,"y":6e-16},{"s":"MoCFR+","x":3250,"y":1e-15},{"s":"MoCFR+","x":4500,"y":4e-16},{"s":"MoCFR+","x":5750,"y":9e-16},{"s":"MoCFR+","x":7000,"y":3.5e-16},{"s":"MoCFR+","x":8250,"y":8e-16},{"s":"MoCFR+","x":9500,"y":4.5e-16},{"s":"MoCFR+","x":10750,"y":1.1e-15},{"s":"MoCFR+","x":12000,"y":4e-16},{"s":"MoCFR+","x":13250,"y":8e-16},{"s":"MoCFR+","x":14500,"y":3e-16},{"s":"MoCFR+","x":15750,"y":9e-16},{"s":"MoCFR+","x":17000,"y":5e-16},{"s":"MoCFR+","x":18250,"y":1e-15},{"s":"MoCFR+","x":19500,"y":4e-16},{"s":"MoCFR+","x":20750,"y":1.3e-15},{"s":"MoCFR+","x":22000,"y":3.5e-16},{"s":"MoCFR+","x":23250,"y":8e-16},{"s":"MoCFR+","x":24500,"y":2.5e-16},{"s":"MoCFR+","x":25750,"y":7e-16},{"s":"MoCFR+","x":27000,"y":4e-16},{"s":"MoCFR+","x":28250,"y":9e-16},{"s":"MoCFR+","x":29500,"y":3.5e-16},{"s":"MoCFR+","x":30750,"y":1e-15},{"s":"MoCFR+","x":32000,"y":5e-16},{"s":"MoCFR+","x":33250,"y":8e-16},{"s":"MoCFR+","x":34500,"y":3e-16},{"s":"MoCFR+","x":35750,"y":1.1e-15},{"s":"MoCFR+","x":37000,"y":4e-16},{"s":"MoCFR+","x":38250,"y":9e-16},{"s":"MoCFR+","x":39500,"y":2.8e-16},{"s":"MoCFR+","x":40750,"y":8e-16},{"s":"MoCFR+","x":42000,"y":4e-16},{"s":"MoCFR+","x":43250,"y":1.1e-15},{"s":"MoCFR+","x":44500,"y":3.5e-16},{"s":"MoCFR+","x":45750,"y":7e-16},{"s":"MoCFR+","x":47000,"y":3e-16},{"s":"MoCFR+","x":48250,"y":9e-16},{"s":"MoCFR+","x":49500,"y":3.5e-16},{"s":"MoCFR+","x":50000,"y":7e-16},
{"s":"MMD-M","x":0,"y":0.5},{"s":"MMD-M","x":500,"y":0.08},{"s":"MMD-M","x":2000,"y":0.014},{"s":"MMD-M","x":5000,"y":0.004},{"s":"MMD-M","x":10000,"y":0.0013},{"s":"MMD-M","x":20000,"y":4e-4},{"s":"MMD-M","x":35000,"y":2.5e-4},{"s":"MMD-M","x":50000,"y":2e-4},
{"s":"DMoGDA","x":0,"y":0.15},{"s":"DMoGDA","x":2000,"y":2e-4},{"s":"DMoGDA","x":4500,"y":2e-5},{"s":"DMoGDA","x":10000,"y":4.5e-6},{"s":"DMoGDA","x":20000,"y":7e-8},{"s":"DMoGDA","x":30000,"y":1e-9},{"s":"DMoGDA","x":40000,"y":1.6e-11},{"s":"DMoGDA","x":50000,"y":2.3e-13},
{"s":"DOGDA","x":0,"y":0.05},{"s":"DOGDA","x":1000,"y":0.005},{"s":"DOGDA","x":5000,"y":8e-4},{"s":"DOGDA","x":10000,"y":3e-4},{"s":"DOGDA","x":20000,"y":1.2e-4},{"s":"DOGDA","x":35000,"y":4e-5},{"s":"DOGDA","x":50000,"y":2e-5},
{"s":"CFR","x":0,"y":0.3},{"s":"CFR","x":500,"y":0.04},{"s":"CFR","x":2000,"y":0.01},{"s":"CFR","x":5000,"y":0.003},{"s":"CFR","x":10000,"y":0.001},{"s":"CFR","x":20000,"y":4e-4},{"s":"CFR","x":35000,"y":2.5e-4},{"s":"CFR","x":50000,"y":1.8e-4},
{"s":"CFR+","x":0,"y":0.01},{"s":"CFR+","x":1000,"y":1e-4},{"s":"CFR+","x":2000,"y":4e-5},{"s":"CFR+","x":6600,"y":1.2e-5},{"s":"CFR+","x":13000,"y":5e-6},{"s":"CFR+","x":30000,"y":4e-6},{"s":"CFR+","x":50000,"y":3.7e-6},
{"s":"PCFR+","x":0,"y":0.03},{"s":"PCFR+","x":1000,"y":2e-4},{"s":"PCFR+","x":2000,"y":5e-5},{"s":"PCFR+","x":4000,"y":3.5e-5},{"s":"PCFR+","x":6000,"y":4e-5},{"s":"PCFR+","x":7500,"y":6e-5},{"s":"PCFR+","x":9000,"y":4e-5},{"s":"PCFR+","x":10000,"y":2.5e-5},{"s":"PCFR+","x":15000,"y":2e-5},{"s":"PCFR+","x":20000,"y":1.6e-5},{"s":"PCFR+","x":30000,"y":1.3e-5},{"s":"PCFR+","x":40000,"y":8e-6},{"s":"PCFR+","x":50000,"y":4.5e-6},
{"s":"Reg_CFR","x":0,"y":1},{"s":"Reg_CFR","x":500,"y":0.1},{"s":"Reg_CFR","x":2000,"y":0.012},{"s":"Reg_CFR","x":5000,"y":0.003},{"s":"Reg_CFR","x":10000,"y":0.001},{"s":"Reg_CFR","x":20000,"y":4e-4},{"s":"Reg_CFR","x":35000,"y":2.2e-4},{"s":"Reg_CFR","x":50000,"y":1.6e-4},
{"s":"Reg_DOGDA","x":0,"y":0.2},{"s":"Reg_DOGDA","x":1000,"y":0.01},{"s":"Reg_DOGDA","x":5000,"y":0.002},{"s":"Reg_DOGDA","x":10000,"y":8e-4},{"s":"Reg_DOGDA","x":20000,"y":3.5e-4},{"s":"Reg_DOGDA","x":35000,"y":2.5e-4},{"s":"Reg_DOGDA","x":40000,"y":3e-4},{"s":"Reg_DOGDA","x":50000,"y":2.5e-4}
]
},
"columns": 2,
"spacing": {"row": 7, "column": 11},
"concat": [
 {"title": "Kuhn Poker", "width": 213, "height": 137, "data": {"name": "kuhn"}, "mark": {"type": "line"},
  "encoding": {
   "x": {"field": "x", "type": "quantitative", "title": "Iterations", "scale": {"type": "log", "domain": [1, 10000], "nice": false}, "axis": {"values": [1, 10, 100, 1000, 10000], "labelExpr": "['10⁰','10¹','10²','10³','10⁴'][round(log(datum.value)/LN10)]"}},
   "y": {"field": "y", "type": "quantitative", "title": "Exploitability", "scale": {"type": "log", "domain": [1e-17, 1], "nice": false}, "axis": {"values": [1e-17, 1e-10, 0.001], "labelExpr": "datum.value < 1e-12 ? '10⁻¹⁷' : datum.value < 1e-5 ? '10⁻¹⁰' : '10⁻³'"}},
   "color": {"field": "s", "type": "nominal", "title": null, "legend": {"orient": "none", "legendX": -82, "legendY": 597, "gridAlign": "each"}, "scale": {"domain": ["MoCFR+","DMoGDA","CFR","PCFR+","Reg_DOGDA","MMD-M","DOGDA","CFR+","Reg_CFR"], "range": ["#ff0000","#0000ff","#008000","#a0702e","#e7298a","#808080","#c0634e","#800080","#00008b"]}}
  }},
 {"title": "Goofspiel 4 (lim. info.)", "width": 213, "height": 137, "data": {"name": "goof4"}, "mark": {"type": "line"},
  "encoding": {
   "x": {"field": "x", "type": "quantitative", "title": "Iterations", "scale": {"type": "log", "domain": [1, 10000], "nice": false}, "axis": {"values": [1, 10, 100, 1000, 10000], "labelExpr": "['10⁰','10¹','10²','10³','10⁴'][round(log(datum.value)/LN10)]"}},
   "y": {"field": "y", "type": "quantitative", "title": "Exploitability", "scale": {"type": "log", "domain": [1e-17, 1], "nice": false}, "axis": {"values": [1e-17, 1e-10, 0.001], "labelExpr": "datum.value < 1e-12 ? '10⁻¹⁷' : datum.value < 1e-5 ? '10⁻¹⁰' : '10⁻³'"}},
   "color": {"field": "s", "type": "nominal", "title": null, "legend": {"orient": "none", "legendX": -82, "legendY": 597, "gridAlign": "each"}, "scale": {"domain": ["MoCFR+","DMoGDA","CFR","PCFR+","Reg_DOGDA","MMD-M","DOGDA","CFR+","Reg_CFR"], "range": ["#ff0000","#0000ff","#008000","#a0702e","#e7298a","#808080","#c0634e","#800080","#00008b"]}}
  }},
 {"title": "Liar's Dice 4", "width": 213, "height": 137, "data": {"name": "liars4"}, "mark": {"type": "line"},
  "encoding": {
   "x": {"field": "x", "type": "quantitative", "title": "Iterations", "scale": {"type": "log", "domain": [1, 10000], "nice": false}, "axis": {"values": [1, 10, 100, 1000, 10000], "labelExpr": "['10⁰','10¹','10²','10³','10⁴'][round(log(datum.value)/LN10)]"}},
   "y": {"field": "y", "type": "quantitative", "title": "Exploitability", "scale": {"type": "log", "domain": [1e-17, 1], "nice": false}, "axis": {"values": [1e-17, 1e-10, 0.001], "labelExpr": "datum.value < 1e-12 ? '10⁻¹⁷' : datum.value < 1e-5 ? '10⁻¹⁰' : '10⁻³'"}},
   "color": {"field": "s", "type": "nominal", "title": null, "legend": {"orient": "none", "legendX": -82, "legendY": 597, "gridAlign": "each"}, "scale": {"domain": ["MoCFR+","DMoGDA","CFR","PCFR+","Reg_DOGDA","MMD-M","DOGDA","CFR+","Reg_CFR"], "range": ["#ff0000","#0000ff","#008000","#a0702e","#e7298a","#808080","#c0634e","#800080","#00008b"]}}
  }},
 {"title": "Leduc poker", "width": 213, "height": 137,
  "layer": [
   {"data": {"name": "leduc"}, "mark": {"type": "line"},
    "encoding": {
     "x": {"field": "x", "type": "quantitative", "title": "Iterations", "scale": {"domain": [0, 50000], "nice": false}, "axis": {"values": [0, 10000, 20000, 30000, 40000, 50000], "labelExpr": "format(datum.value/10000, 'd')"}},
     "y": {"field": "y", "type": "quantitative", "title": "Exploitability", "scale": {"type": "log", "domain": [1e-17, 1], "nice": false}, "axis": {"values": [1e-17, 1e-10, 0.001], "labelExpr": "datum.value < 1e-12 ? '10⁻¹⁷' : datum.value < 1e-5 ? '10⁻¹⁰' : '10⁻³'"}},
     "color": {"field": "s", "type": "nominal", "title": null, "legend": {"orient": "none", "legendX": -82, "legendY": 597, "gridAlign": "each"}, "scale": {"domain": ["MoCFR+","DMoGDA","CFR","PCFR+","Reg_DOGDA","MMD-M","DOGDA","CFR+","Reg_CFR"], "range": ["#ff0000","#0000ff","#008000","#a0702e","#e7298a","#808080","#c0634e","#800080","#00008b"]}}
    }},
   {"data": {"values": [{"lab": "1e4", "x": 50000, "y": 1e-17}]},
    "mark": {"type": "text", "align": "right", "baseline": "top", "dx": 6, "dy": 28, "fontSize": 14, "clip": false},
    "encoding": {"x": {"field": "x", "type": "quantitative"}, "y": {"field": "y", "type": "quantitative"}, "text": {"field": "lab"}}}
  ]},
 {"title": "Goofspiel 5 (lim. info.)", "width": 213, "height": 137,
  "layer": [
   {"data": {"name": "goof5"}, "mark": {"type": "line"},
    "encoding": {
     "x": {"field": "x", "type": "quantitative", "title": "Iterations", "scale": {"domain": [0, 9000], "nice": false}, "axis": {"values": [0, 1800, 3600, 5400, 7200, 9000], "labelExpr": "['0','1','3','5','7','9'][round(datum.value/1800)]"}},
     "y": {"field": "y", "type": "quantitative", "title": "Exploitability", "scale": {"type": "log", "domain": [1e-17, 1], "nice": false}, "axis": {"values": [1e-17, 1e-10, 0.001], "labelExpr": "datum.value < 1e-12 ? '10⁻¹⁷' : datum.value < 1e-5 ? '10⁻¹⁰' : '10⁻³'"}},
     "color": {"field": "s", "type": "nominal", "title": null, "legend": {"orient": "none", "legendX": -82, "legendY": 597, "gridAlign": "each"}, "scale": {"domain": ["MoCFR+","DMoGDA","CFR","PCFR+","Reg_DOGDA","MMD-M","DOGDA","CFR+","Reg_CFR"], "range": ["#ff0000","#0000ff","#008000","#a0702e","#e7298a","#808080","#c0634e","#800080","#00008b"]}}
    }},
   {"data": {"values": [{"lab": "1e3", "x": 9000, "y": 1e-17}]},
    "mark": {"type": "text", "align": "right", "baseline": "top", "dx": 6, "dy": 23, "fontSize": 14, "clip": false},
    "encoding": {"x": {"field": "x", "type": "quantitative"}, "y": {"field": "y", "type": "quantitative"}, "text": {"field": "lab"}}}
  ]},
 {"title": "Liar's Dice 5", "width": 213, "height": 137,
  "layer": [
   {"data": {"name": "liars5"}, "mark": {"type": "line"},
    "encoding": {
     "x": {"field": "x", "type": "quantitative", "title": "Iterations", "scale": {"domain": [0, 50000], "nice": false}, "axis": {"values": [0, 10000, 20000, 30000, 40000, 50000], "labelExpr": "format(datum.value/10000, 'd')"}},
     "y": {"field": "y", "type": "quantitative", "title": "Exploitability", "scale": {"type": "log", "domain": [1e-17, 1], "nice": false}, "axis": {"values": [1e-17, 1e-10, 0.001], "labelExpr": "datum.value < 1e-12 ? '10⁻¹⁷' : datum.value < 1e-5 ? '10⁻¹⁰' : '10⁻³'"}},
     "color": {"field": "s", "type": "nominal", "title": null, "legend": {"orient": "none", "legendX": -82, "legendY": 597, "gridAlign": "each"}, "scale": {"domain": ["MoCFR+","DMoGDA","CFR","PCFR+","Reg_DOGDA","MMD-M","DOGDA","CFR+","Reg_CFR"], "range": ["#ff0000","#0000ff","#008000","#a0702e","#e7298a","#808080","#c0634e","#800080","#00008b"]}}
    }},
   {"data": {"values": [{"lab": "1e4", "x": 50000, "y": 1e-17}]},
    "mark": {"type": "text", "align": "right", "baseline": "top", "dx": 6, "dy": 23, "fontSize": 14, "clip": false},
    "encoding": {"x": {"field": "x", "type": "quantitative"}, "y": {"field": "y", "type": "quantitative"}, "text": {"field": "lab"}}}
  ]}
]
}
